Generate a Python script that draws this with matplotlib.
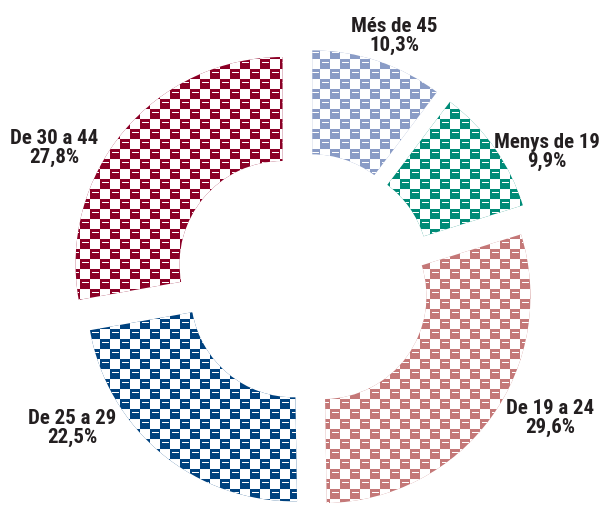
import numpy as np
import matplotlib
matplotlib.use("Agg")
import matplotlib.pyplot as plt
from matplotlib import font_manager

# age groups, clockwise from 12 o'clock
groups = ["Més de 45", "Menys de 19", "De 19 a 24", "De 25 a 29", "De 30 a 44"]
shares = [10.3, 9.9, 29.6, 22.5, 27.8]
share_text = ["10,3%", "9,9%", "29,6%", "22,5%", "27,8%"]
colors = ["#8a9cc6", "#008b77", "#c47878", "#00427f", "#8b0026"]

# layout (pixels, image coords with y going down)
W, H = 604, 506
R = 207
ring = 104
cx, cy = 304, 283
explode_px = [26, 26, 24, 16, 28]
label_xy = [(394, 36), (547, 152), (550, 418), (72, 428), (54, 148)]

names = {f.name for f in font_manager.fontManager.ttflist}
fam = [f for f in ["Liberation Sans Narrow", "Roboto Condensed", "DejaVu Sans"] if f in names]
plt.rcParams["font.family"] = fam

fig = plt.figure(figsize=(W / 100, H / 100), dpi=100)
ax = fig.add_axes([0, 0, 1, 1])

# explode is in data units here (pixels)
wedges, _ = ax.pie(shares, startangle=90, counterclock=False, radius=R,
                   center=(cx, H - cy), explode=explode_px,
                   colors=colors, wedgeprops=dict(width=ring, linewidth=0))

# checkered white texture, one image pixel per figure pixel
yy, xx = np.mgrid[0:H, 0:W]
cell = 10
checker = ((xx // cell + yy // cell) % 2) == 1
ry, rx = yy % cell, xx % cell
notch = (~checker) & (ry == 3) & (rx >= 2) & (rx <= 8)
white = checker | notch
tex = np.zeros((H, W, 4))
tex[..., :3] = 1.0
tex[..., 3] = white.astype(float)

for w in wedges:
    im = ax.imshow(tex, extent=(0, W, 0, H), origin="upper",
                   interpolation="nearest", zorder=3)
    im.set_clip_path(w)

for (lx, ly), g, s in zip(label_xy, groups, share_text):
    ax.text(lx, H - ly, g + "\n" + s, ha="center", va="center",
            fontsize=15, fontweight="heavy", color="#231f20",
            linespacing=1.05, zorder=5)

ax.set_xlim(0, W)
ax.set_ylim(0, H)
ax.set_aspect("equal")
ax.set_axis_off()

fig.savefig("out.png", dpi=100)
